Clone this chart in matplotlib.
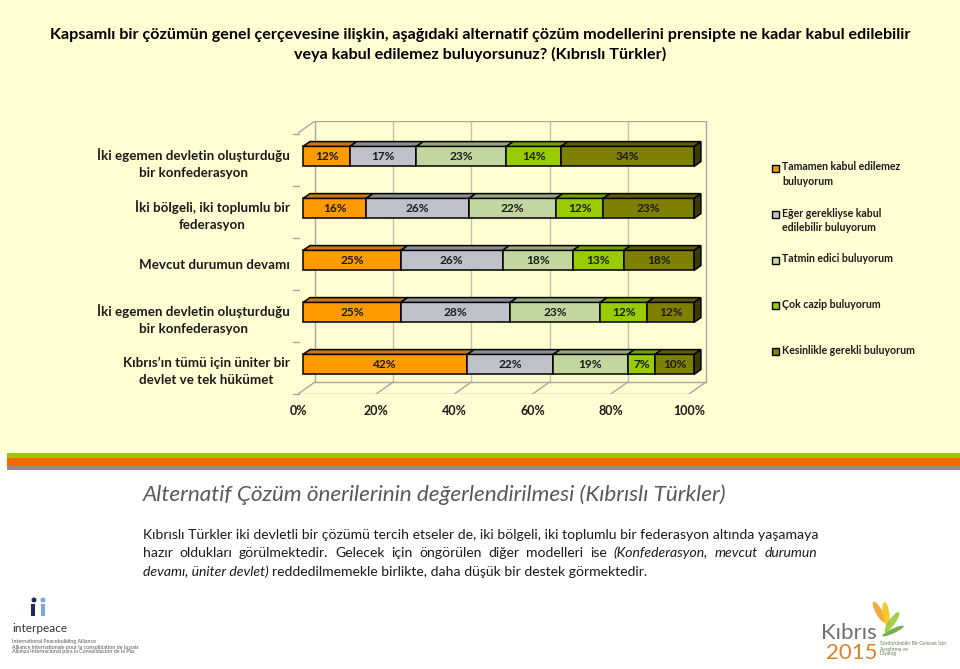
import numpy as np
import matplotlib
matplotlib.use("Agg")
import matplotlib.pyplot as plt
from matplotlib.patches import Polygon, Rectangle, Ellipse

plt.rcParams['font.family'] = ['Lato', 'DejaVu Sans']

# ---- data -------------------------------------------------------------
title = ("Kapsamlı bir çözümün genel çerçevesine ilişkin, aşağıdaki alternatif çözüm modellerini prensipte ne kadar kabul edilebilir\n"
         "veya kabul edilemez buluyorsunuz? (Kıbrıslı Türkler)")

categories = ["İki egemen devletin oluşturduğu\nbir konfederasyon",
              "İki bölgeli, iki toplumlu bir\nfederasyon",
              "Mevcut durumun devamı",
              "İki egemen devletin oluşturduğu\nbir konfederasyon",
              "Kıbrıs’ın tümü için üniter bir\ndevlet ve tek hükümet"]

series_names = ["Tamamen kabul edilemez\nbuluyorum",
                "Eğer gerekliyse kabul\nedilebilir buluyorum",
                "Tatmin edici buluyorum",
                "Çok cazip buluyorum",
                "Kesinlikle gerekli buluyorum"]

tamamen = [12, 16, 25, 25, 42]
eger = [17, 26, 26, 28, 22]
tatmin = [23, 22, 18, 23, 19]
cazip = [14, 12, 13, 12, 7]
kesin = [34, 23, 18, 12, 10]

x_ticks = [0, 20, 40, 60, 80, 100]

heading = "Alternatif Çözüm önerilerinin değerlendirilmesi (Kıbrıslı Türkler)"
para_lines = [
    [("Kıbrıslı Türkler iki devletli bir çözümü tercih etseler de, iki bölgeli, iki toplumlu bir federasyon altında yaşamaya", 'normal')],
    [("hazır oldukları görülmektedir. Gelecek için öngörülen diğer modelleri ise", 'normal'),
     ("(Konfederasyon, mevcut durumun", 'italic')],
    [("devamı, üniter devlet)", 'italic'),
     ("reddedilmemekle birlikte, daha düşük bir destek görmektedir.", 'normal')],
]

front_colors = ['#FF9900', '#C0C0C8', '#C4D6A0', '#99CC00', '#808000']
top_colors = ['#C47812', '#8C8C94', '#97A77A', '#73A000', '#5C5C00']
side_color = '#3C3C00'
bg = '#FFFED2'

# ---- figure -----------------------------------------------------------
W, H = 960, 669
fig = plt.figure(figsize=(9.6, 6.69), dpi=100)
fig.patch.set_facecolor('white')


def fx(px):
    return px / W


def fy(py):
    return 1 - py / H


fig.add_artist(Rectangle((0, fy(453)), 1, 1 - fy(453), transform=fig.transFigure,
                         facecolor=bg, edgecolor='none', zorder=-10))
# stripes under the chart panel
for y0, y1, c in [(453, 457.5, '#9BC800'), (457.5, 466, '#FF6600'), (466, 470, '#8C8C8C')]:
    fig.add_artist(Rectangle((fx(7), fy(y1)), 1 - fx(7), fy(y0) - fy(y1), transform=fig.transFigure,
                             facecolor=c, edgecolor='none', zorder=-9))

fig.text(0.5, fy(45), title, ha='center', va='center', fontsize=11.6, weight='bold',
         color='black', linespacing=1.35)

# ---- chart ------------------------------------------------------------
ax = fig.add_axes([fx(298), fy(394), fx(708) - fx(298), fy(121) - fy(394)])
ax.set_facecolor('none')
px_per_pct = 391 / 100.0
row_px = 52.0
ymin = -0.5
ax.set_xlim(0, (708 - 298) / px_per_pct)
ax.set_ylim(ymin, ymin + (394 - 121) / row_px)
ymax = ax.get_ylim()[1]
ddx = 17 / px_per_pct     # full depth offset in data units
ddy = 12 / row_px

grid_c = '#C4C2A4'
edge_c = '#A8A8A0'
# back wall
for t in x_ticks[1:-1]:
    ax.plot([t + ddx, t + ddx], [ymin + ddy, ymax], color=grid_c, lw=1, zorder=1)
ax.plot([ddx, ddx], [ymin + ddy, ymax], color=edge_c, lw=1, zorder=1)
ax.plot([100 + ddx, 100 + ddx], [ymin + ddy, ymax], color=edge_c, lw=1, zorder=1)
ax.plot([ddx, 100 + ddx], [ymax, ymax], color=edge_c, lw=1, zorder=1)
ax.plot([0, ddx], [ymax - ddy, ymax], color=edge_c, lw=1, zorder=1)
# floor
ax.plot([0, 100], [ymin, ymin], color=edge_c, lw=1, zorder=1)
ax.plot([ddx, 100 + ddx], [ymin + ddy, ymin + ddy], color=edge_c, lw=1, zorder=1)
for t in x_ticks:
    ax.plot([t, t + ddx], [ymin, ymin + ddy], color=edge_c, lw=1, zorder=1)
# category tick marks on the side wall
for b in np.arange(len(categories) + 1) - 0.5:
    ax.plot([-1.2, 0.3], [b, b], color=edge_c, lw=1, zorder=1, clip_on=False)

data = np.array([tamamen, eger, tatmin, cazip, kesin], dtype=float)
shares = data / data.sum(axis=0) * 100
y_pos = np.arange(len(categories))[::-1]
h = 20 / row_px
d0, d1 = 0.3, 0.7
bdx, bdy = (d1 - d0) * ddx, (d1 - d0) * ddy

for j, y in enumerate(y_pos):
    yc = y + d0 * ddy
    yt = yc + h / 2
    yb = yc - h / 2
    left = d0 * ddx
    for k in range(len(series_names)):
        w = shares[k, j]
        ax.barh(yc, w, left=left, height=h, color=front_colors[k], edgecolor='black',
                lw=1.1, zorder=3)
        ax.add_patch(Polygon([(left, yt), (left + w, yt), (left + w + bdx, yt + bdy), (left + bdx, yt + bdy)],
                             closed=True, facecolor=top_colors[k], edgecolor='black', lw=1.1, zorder=3))
        ax.text(left + w / 2, yc, f"{int(data[k, j])}%", ha='center', va='center', fontsize=8.6,
                weight='bold', color='#1A1A1A', zorder=4)
        left += w
    ax.add_patch(Polygon([(left, yb), (left, yt), (left + bdx, yt + bdy), (left + bdx, yb + bdy)],
                         closed=True, facecolor=side_color, edgecolor='black', lw=1.1, zorder=3))

ax.set_xticks(x_ticks)
ax.set_xticklabels([f"{t}%" for t in x_ticks], fontsize=9, weight='bold', color='#1A1A1A')
ax.set_yticks(y_pos)
ax.set_yticklabels(categories, fontsize=9.6, weight='bold', color='#1A1A1A', ma='center',
                   linespacing=1.45)
ax.tick_params(axis='x', length=0, pad=8)
ax.tick_params(axis='y', length=0, pad=6)
for s in ax.spines.values():
    s.set_visible(False)

# legend
leg_y = [168, 214, 260, 305, 351]
for k, name in enumerate(series_names):
    fig.add_artist(Rectangle((fx(772), fy(leg_y[k] + 4)), fx(7), fy(0) - fy(7), transform=fig.transFigure,
                             facecolor=front_colors[k], edgecolor='black', lw=1.0))
    fig.text(fx(782), fy(leg_y[k] - 6.5), name, ha='left', va='top', fontsize=7.6, weight='bold',
             color='#1A1A1A', linespacing=1.35)

# ---- text below -------------------------------------------------------
fig.text(fx(143), fy(495), heading, ha='left', va='center', fontsize=16.2, style='italic',
         color='#595959')

renderer = fig.canvas.get_renderer()
line_y = [539, 557, 576]
x_left, x_right = 143, 817
# size the paragraph so that the first line fills the text block
probe = fig.text(0, 0, para_lines[0][0][0], fontsize=10)
pfs = 10 * (x_right - x_left) / probe.get_window_extent(renderer).width
probe.remove()
space = pfs * 100 / 72 * 0.26

# line 1: one string, already full width
fig.text(fx(x_left), fy(line_y[0]), para_lines[0][0][0], ha='left', va='baseline', fontsize=pfs,
         color='#1A1A1A')
# line 2: justified word by word
words = [(wd, st) for chunk, st in para_lines[1] for wd in chunk.split(' ')]
arts, widths = [], []
for wd, st in words:
    t = fig.text(fx(x_left), fy(line_y[1]), wd, ha='left', va='baseline', fontsize=pfs, style=st,
                 color='#1A1A1A')
    arts.append(t)
    widths.append(t.get_window_extent(renderer).width)
gap = (x_right - x_left - sum(widths)) / (len(words) - 1)
x = x_left
for t, wdt in zip(arts, widths):
    t.set_x(fx(x))
    x += wdt + gap
# line 3: left aligned, two styles
t0 = fig.text(fx(x_left), fy(line_y[2]), para_lines[2][0][0], ha='left', va='baseline', fontsize=pfs,
              style=para_lines[2][0][1], color='#1A1A1A')
w0 = t0.get_window_extent(renderer).width
fig.text(fx(x_left + w0 + space), fy(line_y[2]), para_lines[2][1][0], ha='left', va='baseline',
         fontsize=pfs, style=para_lines[2][1][1], color='#1A1A1A')

# ---- logos ------------------------------------------------------------
navy = '#1F2A5C'
lblue = '#7FA6D8'
fig.add_artist(Rectangle((fx(31), fy(616)), fx(4), fy(604) - fy(616), transform=fig.transFigure,
                         facecolor=navy, edgecolor='none'))
fig.add_artist(Rectangle((fx(41), fy(616)), fx(4), fy(604) - fy(616), transform=fig.transFigure,
                         facecolor=lblue, edgecolor='none'))
fig.add_artist(Ellipse((fx(34), fy(600)), fx(5), fy(0) - fy(5), transform=fig.transFigure,
                       facecolor=navy, edgecolor='none'))
fig.add_artist(Ellipse((fx(43), fy(600)), fx(5), fy(0) - fy(5), transform=fig.transFigure,
                       facecolor=lblue, edgecolor='none'))
fig.text(fx(12), fy(628), "interpeace", ha='left', va='center', fontsize=8.5, color='#333333')
for yy, s in zip([642, 647, 652], ["International Peacebuilding Alliance",
                                   "Alliance internationale pour la consolidation de la paix",
                                   "Alianza Internacional para la Consolidación de la Paz"]):
    fig.text(fx(12), fy(yy), s, ha='left', va='center', fontsize=3.9, color='#555555')

for (cx, cy, w, hh, ang, c) in [(879, 612, 7, 22, 20, '#F0A030'), (886, 614, 7, 24, 5, '#F5C518'),
                                (892, 622, 7, 22, -25, '#9CC83C'), (893, 631, 6, 18, -55, '#6BA83A')]:
    fig.add_artist(Ellipse((fx(cx), fy(cy)), fx(w), fy(0) - fy(hh), angle=ang, transform=fig.transFigure,
                           facecolor=c, edgecolor='none', alpha=0.9))
fig.text(fx(821), fy(633), "Kıbrıs", ha='left', va='center', fontsize=16, color='#6F6F6F')
fig.text(fx(826), fy(653), "2015", ha='left', va='center', fontsize=16, color='#D9822B')
for yy, s in zip([643, 649, 654], ["Sürdürülebilir Bir Gelecek İçin", "Araştırma ve", "Diyalog"]):
    fig.text(fx(880), fy(yy), s, ha='left', va='center', fontsize=3.6, color='#6A7A50')

fig.savefig("out.png", dpi=100, facecolor=fig.get_facecolor())
